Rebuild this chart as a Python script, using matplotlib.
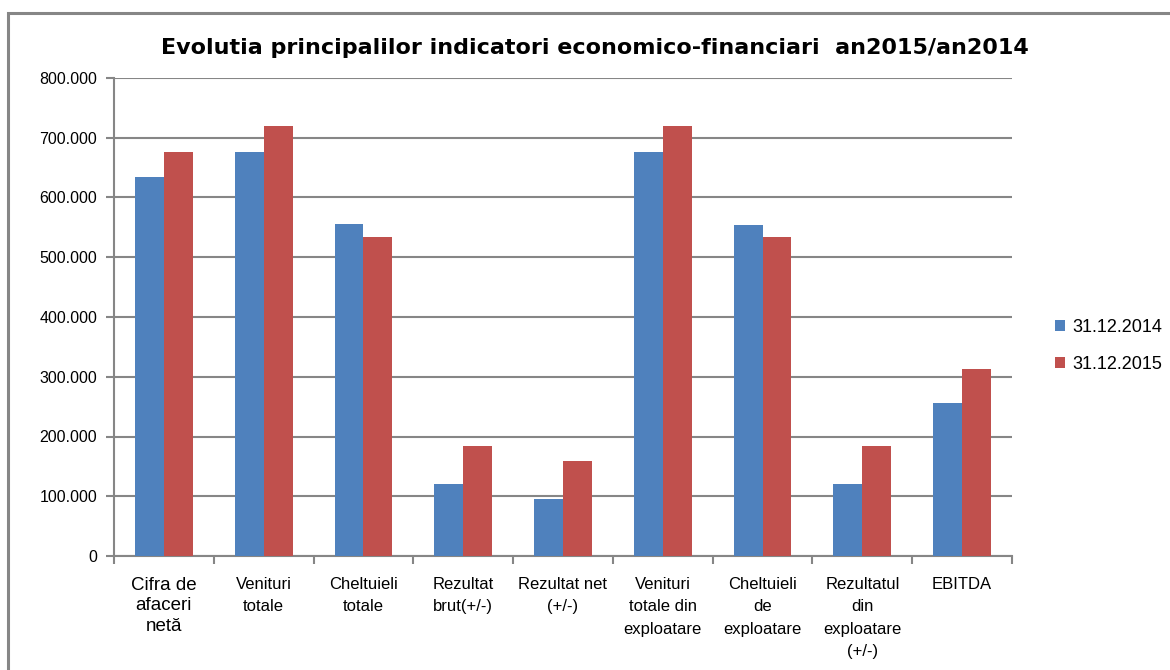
import matplotlib.pyplot as plt
import numpy as np
from matplotlib.patches import Rectangle

# Datos (valores en unidades monetarias)
categorias = [
    "Cifra de\nafaceri\nnetă",
    "Venituri\ntotale",
    "Cheltuieli\ntotale",
    "Rezultat\nbrut(+/-)",
    "Rezultat net\n(+/-)",
    "Venituri\ntotale din\nexploatare",
    "Cheltuieli\nde\nexploatare",
    "Rezultatul\ndin\nexploatare\n(+/-)",
    "EBITDA",
]
valori_2014 = [634000, 676000, 556000, 121000, 95000, 676000, 554000, 121000, 256000]
valori_2015 = [676000, 720000, 534000, 184000, 159000, 720000, 534000, 184000, 313000]
etichete_serii = ["31.12.2014", "31.12.2015"]
yticks = [0, 100000, 200000, 300000, 400000, 500000, 600000, 700000, 800000]

albastru = "#4F81BD"
rosu = "#C0504D"
gri = "#868686"

plt.rcParams['font.family'] = ['Liberation Sans', 'DejaVu Sans']

fig = plt.figure(figsize=(11.7, 6.7), dpi=100)
ax = fig.add_axes([114 / 1170, 1 - 556 / 670, (1012 - 114) / 1170, (556 - 78) / 670])

# Marco exterior del grafico (se sale de la imagen por la derecha y abajo)
fig.patches.append(Rectangle((8 / 1170, -0.1), 1.2, 1 - 13 / 670 + 0.1,
                             transform=fig.transFigure, fill=False,
                             edgecolor=gri, linewidth=2.2, zorder=0))

x = np.arange(len(categorias))
w = 0.29
ax.bar(x - w / 2, valori_2014, w, color=albastru, label=etichete_serii[0], zorder=3)
ax.bar(x + w / 2, valori_2015, w, color=rosu, label=etichete_serii[1], zorder=3)

ax.set_xlim(-0.5, len(categorias) - 0.5)
ax.set_ylim(0, 800000)
ax.set_yticks(yticks)
ax.set_yticklabels(["0" if v == 0 else f"{v // 1000}.000" for v in yticks], fontsize=11.5)
ax.yaxis.grid(True, color=gri, linewidth=1.5, zorder=0)
ax.set_axisbelow(True)

# Ticks del eje X en los limites de categoria, etiquetas centradas
ax.set_xticks(np.arange(-0.5, len(categorias), 1.0))
ax.set_xticklabels([])
ax.tick_params(axis='x', which='major', direction='out', length=6, color=gri, width=1.5)
ax.set_xticks(x, minor=True)
ax.set_xticklabels(categorias, minor=True, fontsize=12, linespacing=1.62, va='top')
ax.tick_params(axis='x', which='minor', length=0, pad=15)
for lbl in ax.get_xticklabels(minor=True):
    if lbl.get_text().startswith("Cifra"):
        lbl.set_fontsize(13.5)
        lbl.set_linespacing(1.27)
ax.tick_params(axis='y', direction='out', length=6, color=gri, width=1.5, pad=6)

for s in ['top', 'right']:
    ax.spines[s].set_visible(False)
for s in ['left', 'bottom']:
    ax.spines[s].set_color(gri)
    ax.spines[s].set_linewidth(1.5)

fig.text(595 / 1170, 1 - 48 / 670,
         "Evolutia principalilor indicatori economico-financiari  an2015/an2014",
         ha='center', va='center', fontsize=16, fontweight='bold',
         family=['DejaVu Sans'])

leg = ax.legend(loc='center left', bbox_to_anchor=(1.03, 0.44), frameon=False,
                fontsize=13, handlelength=0.55, handleheight=0.55,
                handletextpad=0.4, labelspacing=1.1)

fig.savefig("out.png", dpi=100)
